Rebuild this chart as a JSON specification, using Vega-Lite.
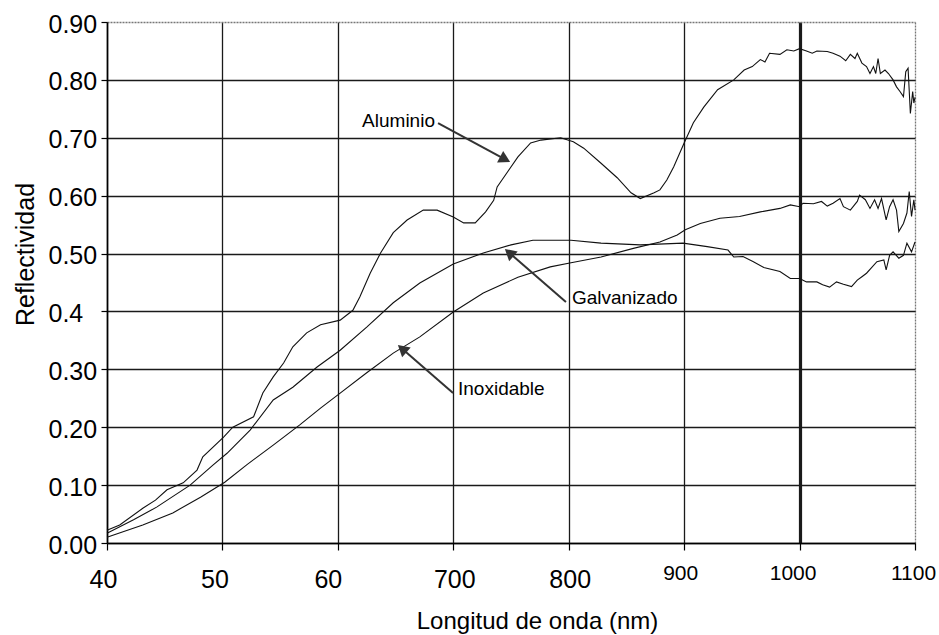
{
  "$schema": "https://vega.github.io/schema/vega-lite/v6.json",
  "width": 808,
  "height": 521,
  "autosize": "none",
  "padding": {"left": 107, "top": 22, "right": 24, "bottom": 92},
  "background": "white",
  "config": {
    "view": {"stroke": null},
    "font": "Liberation Sans, Arial, sans-serif",
    "axis": {
      "domainColor": "#000",
      "domainWidth": 1.6,
      "tickColor": "#000",
      "tickWidth": 1.2,
      "gridColor": "#1a1a1a",
      "gridWidth": 1.3,
      "gridOpacity": 1,
      "labelColor": "#000",
      "titleColor": "#000",
      "titleFontWeight": "normal",
      "labelFont": "Liberation Sans, Arial, sans-serif",
      "titleFont": "Liberation Sans, Arial, sans-serif"
    }
  },
  "datasets": {
    "curvas": [
      {"m": "Aluminio", "nm": 400, "r": 0.022},
      {"m": "Aluminio", "nm": 411, "r": 0.031},
      {"m": "Aluminio", "nm": 431, "r": 0.060},
      {"m": "Aluminio", "nm": 442, "r": 0.074},
      {"m": "Aluminio", "nm": 452, "r": 0.092},
      {"m": "Aluminio", "nm": 466, "r": 0.104},
      {"m": "Aluminio", "nm": 478, "r": 0.126},
      {"m": "Aluminio", "nm": 483, "r": 0.149},
      {"m": "Aluminio", "nm": 501, "r": 0.183},
      {"m": "Aluminio", "nm": 509, "r": 0.200},
      {"m": "Aluminio", "nm": 527, "r": 0.218},
      {"m": "Aluminio", "nm": 535, "r": 0.259},
      {"m": "Aluminio", "nm": 544, "r": 0.287},
      {"m": "Aluminio", "nm": 553, "r": 0.311},
      {"m": "Aluminio", "nm": 561, "r": 0.339},
      {"m": "Aluminio", "nm": 573, "r": 0.363},
      {"m": "Aluminio", "nm": 585, "r": 0.377},
      {"m": "Aluminio", "nm": 602, "r": 0.385},
      {"m": "Aluminio", "nm": 613, "r": 0.402},
      {"m": "Aluminio", "nm": 619, "r": 0.425},
      {"m": "Aluminio", "nm": 628, "r": 0.466},
      {"m": "Aluminio", "nm": 637, "r": 0.501},
      {"m": "Aluminio", "nm": 648, "r": 0.536},
      {"m": "Aluminio", "nm": 660, "r": 0.558},
      {"m": "Aluminio", "nm": 674, "r": 0.575},
      {"m": "Aluminio", "nm": 686, "r": 0.575},
      {"m": "Aluminio", "nm": 700, "r": 0.563},
      {"m": "Aluminio", "nm": 709, "r": 0.553},
      {"m": "Aluminio", "nm": 719, "r": 0.553},
      {"m": "Aluminio", "nm": 728, "r": 0.572},
      {"m": "Aluminio", "nm": 735, "r": 0.592},
      {"m": "Aluminio", "nm": 738, "r": 0.615},
      {"m": "Aluminio", "nm": 748, "r": 0.644},
      {"m": "Aluminio", "nm": 756, "r": 0.667},
      {"m": "Aluminio", "nm": 767, "r": 0.691},
      {"m": "Aluminio", "nm": 776, "r": 0.696},
      {"m": "Aluminio", "nm": 793, "r": 0.700},
      {"m": "Aluminio", "nm": 804, "r": 0.693},
      {"m": "Aluminio", "nm": 813, "r": 0.682},
      {"m": "Aluminio", "nm": 828, "r": 0.656},
      {"m": "Aluminio", "nm": 842, "r": 0.631},
      {"m": "Aluminio", "nm": 854, "r": 0.605},
      {"m": "Aluminio", "nm": 862, "r": 0.595},
      {"m": "Aluminio", "nm": 874, "r": 0.605},
      {"m": "Aluminio", "nm": 879, "r": 0.610},
      {"m": "Aluminio", "nm": 885, "r": 0.627},
      {"m": "Aluminio", "nm": 891, "r": 0.650},
      {"m": "Aluminio", "nm": 900, "r": 0.691},
      {"m": "Aluminio", "nm": 908, "r": 0.726},
      {"m": "Aluminio", "nm": 917, "r": 0.753},
      {"m": "Aluminio", "nm": 929, "r": 0.783},
      {"m": "Aluminio", "nm": 943, "r": 0.800},
      {"m": "Aluminio", "nm": 952, "r": 0.817},
      {"m": "Aluminio", "nm": 959, "r": 0.823},
      {"m": "Aluminio", "nm": 966, "r": 0.835},
      {"m": "Aluminio", "nm": 970, "r": 0.831},
      {"m": "Aluminio", "nm": 974, "r": 0.846},
      {"m": "Aluminio", "nm": 983, "r": 0.844},
      {"m": "Aluminio", "nm": 989, "r": 0.852},
      {"m": "Aluminio", "nm": 995, "r": 0.850},
      {"m": "Aluminio", "nm": 1000, "r": 0.854},
      {"m": "Aluminio", "nm": 1006, "r": 0.850},
      {"m": "Aluminio", "nm": 1011, "r": 0.846},
      {"m": "Aluminio", "nm": 1015, "r": 0.850},
      {"m": "Aluminio", "nm": 1024, "r": 0.849},
      {"m": "Aluminio", "nm": 1029, "r": 0.846},
      {"m": "Aluminio", "nm": 1035, "r": 0.841},
      {"m": "Aluminio", "nm": 1040, "r": 0.833},
      {"m": "Aluminio", "nm": 1044, "r": 0.844},
      {"m": "Aluminio", "nm": 1048, "r": 0.837},
      {"m": "Aluminio", "nm": 1050, "r": 0.846},
      {"m": "Aluminio", "nm": 1054, "r": 0.829},
      {"m": "Aluminio", "nm": 1058, "r": 0.823},
      {"m": "Aluminio", "nm": 1061, "r": 0.811},
      {"m": "Aluminio", "nm": 1064, "r": 0.823},
      {"m": "Aluminio", "nm": 1066, "r": 0.811},
      {"m": "Aluminio", "nm": 1068, "r": 0.837},
      {"m": "Aluminio", "nm": 1070, "r": 0.811},
      {"m": "Aluminio", "nm": 1074, "r": 0.817},
      {"m": "Aluminio", "nm": 1077, "r": 0.811},
      {"m": "Aluminio", "nm": 1081, "r": 0.800},
      {"m": "Aluminio", "nm": 1084, "r": 0.788},
      {"m": "Aluminio", "nm": 1087, "r": 0.780},
      {"m": "Aluminio", "nm": 1090, "r": 0.771},
      {"m": "Aluminio", "nm": 1092, "r": 0.814},
      {"m": "Aluminio", "nm": 1094, "r": 0.820},
      {"m": "Aluminio", "nm": 1096, "r": 0.742},
      {"m": "Aluminio", "nm": 1098, "r": 0.780},
      {"m": "Aluminio", "nm": 1099, "r": 0.760},
      {"m": "Aluminio", "nm": 1100, "r": 0.770},

      {"m": "Galvanizado", "nm": 400, "r": 0.017},
      {"m": "Galvanizado", "nm": 423, "r": 0.040},
      {"m": "Galvanizado", "nm": 443, "r": 0.062},
      {"m": "Galvanizado", "nm": 472, "r": 0.100},
      {"m": "Galvanizado", "nm": 492, "r": 0.135},
      {"m": "Galvanizado", "nm": 504, "r": 0.155},
      {"m": "Galvanizado", "nm": 524, "r": 0.195},
      {"m": "Galvanizado", "nm": 544, "r": 0.247},
      {"m": "Galvanizado", "nm": 561, "r": 0.269},
      {"m": "Galvanizado", "nm": 582, "r": 0.304},
      {"m": "Galvanizado", "nm": 602, "r": 0.333},
      {"m": "Galvanizado", "nm": 625, "r": 0.373},
      {"m": "Galvanizado", "nm": 648, "r": 0.415},
      {"m": "Galvanizado", "nm": 671, "r": 0.449},
      {"m": "Galvanizado", "nm": 700, "r": 0.482},
      {"m": "Galvanizado", "nm": 726, "r": 0.501},
      {"m": "Galvanizado", "nm": 750, "r": 0.515},
      {"m": "Galvanizado", "nm": 769, "r": 0.523},
      {"m": "Galvanizado", "nm": 802, "r": 0.523},
      {"m": "Galvanizado", "nm": 828, "r": 0.518},
      {"m": "Galvanizado", "nm": 862, "r": 0.515},
      {"m": "Galvanizado", "nm": 899, "r": 0.518},
      {"m": "Galvanizado", "nm": 920, "r": 0.512},
      {"m": "Galvanizado", "nm": 938, "r": 0.506},
      {"m": "Galvanizado", "nm": 943, "r": 0.494},
      {"m": "Galvanizado", "nm": 951, "r": 0.495},
      {"m": "Galvanizado", "nm": 960, "r": 0.486},
      {"m": "Galvanizado", "nm": 969, "r": 0.476},
      {"m": "Galvanizado", "nm": 983, "r": 0.469},
      {"m": "Galvanizado", "nm": 992, "r": 0.457},
      {"m": "Galvanizado", "nm": 1000, "r": 0.457},
      {"m": "Galvanizado", "nm": 1006, "r": 0.451},
      {"m": "Galvanizado", "nm": 1015, "r": 0.451},
      {"m": "Galvanizado", "nm": 1020, "r": 0.446},
      {"m": "Galvanizado", "nm": 1026, "r": 0.442},
      {"m": "Galvanizado", "nm": 1032, "r": 0.451},
      {"m": "Galvanizado", "nm": 1038, "r": 0.447},
      {"m": "Galvanizado", "nm": 1045, "r": 0.443},
      {"m": "Galvanizado", "nm": 1050, "r": 0.454},
      {"m": "Galvanizado", "nm": 1054, "r": 0.460},
      {"m": "Galvanizado", "nm": 1058, "r": 0.466},
      {"m": "Galvanizado", "nm": 1062, "r": 0.475},
      {"m": "Galvanizado", "nm": 1067, "r": 0.486},
      {"m": "Galvanizado", "nm": 1073, "r": 0.489},
      {"m": "Galvanizado", "nm": 1075, "r": 0.472},
      {"m": "Galvanizado", "nm": 1078, "r": 0.497},
      {"m": "Galvanizado", "nm": 1081, "r": 0.503},
      {"m": "Galvanizado", "nm": 1086, "r": 0.492},
      {"m": "Galvanizado", "nm": 1090, "r": 0.497},
      {"m": "Galvanizado", "nm": 1093, "r": 0.518},
      {"m": "Galvanizado", "nm": 1097, "r": 0.503},
      {"m": "Galvanizado", "nm": 1100, "r": 0.520},

      {"m": "Inoxidable", "nm": 400, "r": 0.010},
      {"m": "Inoxidable", "nm": 431, "r": 0.031},
      {"m": "Inoxidable", "nm": 457, "r": 0.052},
      {"m": "Inoxidable", "nm": 481, "r": 0.079},
      {"m": "Inoxidable", "nm": 502, "r": 0.105},
      {"m": "Inoxidable", "nm": 521, "r": 0.135},
      {"m": "Inoxidable", "nm": 544, "r": 0.169},
      {"m": "Inoxidable", "nm": 567, "r": 0.204},
      {"m": "Inoxidable", "nm": 585, "r": 0.233},
      {"m": "Inoxidable", "nm": 602, "r": 0.259},
      {"m": "Inoxidable", "nm": 625, "r": 0.294},
      {"m": "Inoxidable", "nm": 648, "r": 0.328},
      {"m": "Inoxidable", "nm": 671, "r": 0.356},
      {"m": "Inoxidable", "nm": 700, "r": 0.399},
      {"m": "Inoxidable", "nm": 726, "r": 0.432},
      {"m": "Inoxidable", "nm": 756, "r": 0.459},
      {"m": "Inoxidable", "nm": 784, "r": 0.477},
      {"m": "Inoxidable", "nm": 802, "r": 0.484},
      {"m": "Inoxidable", "nm": 828, "r": 0.494},
      {"m": "Inoxidable", "nm": 856, "r": 0.509},
      {"m": "Inoxidable", "nm": 879, "r": 0.520},
      {"m": "Inoxidable", "nm": 894, "r": 0.532},
      {"m": "Inoxidable", "nm": 901, "r": 0.541},
      {"m": "Inoxidable", "nm": 914, "r": 0.552},
      {"m": "Inoxidable", "nm": 931, "r": 0.561},
      {"m": "Inoxidable", "nm": 948, "r": 0.564},
      {"m": "Inoxidable", "nm": 966, "r": 0.572},
      {"m": "Inoxidable", "nm": 983, "r": 0.578},
      {"m": "Inoxidable", "nm": 992, "r": 0.584},
      {"m": "Inoxidable", "nm": 1000, "r": 0.581},
      {"m": "Inoxidable", "nm": 1003, "r": 0.587},
      {"m": "Inoxidable", "nm": 1012, "r": 0.586},
      {"m": "Inoxidable", "nm": 1019, "r": 0.590},
      {"m": "Inoxidable", "nm": 1024, "r": 0.582},
      {"m": "Inoxidable", "nm": 1029, "r": 0.587},
      {"m": "Inoxidable", "nm": 1035, "r": 0.595},
      {"m": "Inoxidable", "nm": 1038, "r": 0.581},
      {"m": "Inoxidable", "nm": 1044, "r": 0.575},
      {"m": "Inoxidable", "nm": 1050, "r": 0.590},
      {"m": "Inoxidable", "nm": 1052, "r": 0.601},
      {"m": "Inoxidable", "nm": 1057, "r": 0.593},
      {"m": "Inoxidable", "nm": 1061, "r": 0.578},
      {"m": "Inoxidable", "nm": 1065, "r": 0.593},
      {"m": "Inoxidable", "nm": 1068, "r": 0.578},
      {"m": "Inoxidable", "nm": 1071, "r": 0.595},
      {"m": "Inoxidable", "nm": 1075, "r": 0.558},
      {"m": "Inoxidable", "nm": 1078, "r": 0.581},
      {"m": "Inoxidable", "nm": 1081, "r": 0.593},
      {"m": "Inoxidable", "nm": 1084, "r": 0.575},
      {"m": "Inoxidable", "nm": 1086, "r": 0.538},
      {"m": "Inoxidable", "nm": 1090, "r": 0.552},
      {"m": "Inoxidable", "nm": 1093, "r": 0.570},
      {"m": "Inoxidable", "nm": 1095, "r": 0.607},
      {"m": "Inoxidable", "nm": 1097, "r": 0.564},
      {"m": "Inoxidable", "nm": 1099, "r": 0.593},
      {"m": "Inoxidable", "nm": 1100, "r": 0.575}
    ],
    "notas": [
      {"nota": "Aluminio", "nm": 621, "r": 0.7186, "nm1": 686.8, "r1": 0.7255, "nm2": 744.9, "r2": 0.6628},
      {"nota": "Galvanizado", "nm": 802.8, "r": 0.4128, "nm1": 797.6, "r1": 0.4163, "nm2": 748.4, "r2": 0.5015},
      {"nota": "Inoxidable", "nm": 704.1, "r": 0.2557, "nm1": 699.8, "r1": 0.2590, "nm2": 655.7, "r2": 0.3356}
    ]
  },
  "layer": [
    {
      "data": {"name": "curvas"},
      "mark": {"type": "line", "color": "#111", "strokeWidth": 1.1, "interpolate": "linear"},
      "encoding": {
        "x": {
          "field": "nm",
          "type": "quantitative",
          "title": "Longitud de onda (nm)",
          "scale": {"domain": [400, 1100], "nice": false, "zero": false},
          "axis": {
            "values": [400, 500, 600, 700, 800, 900, 1000, 1100],
            "labelExpr": "datum.value <= 600 ? format(datum.value / 10, 'd') : format(datum.value, 'd')",
            "tickSize": 7,
            "labelFontSize": {"condition": {"test": "datum.value >= 900", "value": 21}, "value": 25},
            "labelPadding": {"condition": {"test": "datum.value >= 900", "value": 12}, "value": 17},
            "labelOffset": {"condition": [
              {"test": "datum.value == 400", "value": -4},
              {"test": "datum.value == 500", "value": -8},
              {"test": "datum.value == 600", "value": -10},
              {"test": "datum.value == 900", "value": -4},
              {"test": "datum.value == 1000", "value": -7},
              {"test": "datum.value == 1100", "value": -2}
            ], "value": 1},
            "labelFlush": false,
            "labelOverlap": false,
            "gridWidth": {"condition": {"test": "datum.value == 1000", "value": 3.2}, "value": 1.3},
            "gridColor": {"condition": {"test": "datum.value == 1100", "value": "#777"}, "value": "#1a1a1a"},
            "gridDash": {"condition": {"test": "datum.value == 1100", "value": [2, 1]}, "value": []},
            "titleFontSize": 24,
            "titleBaseline": "alphabetic",
            "titleAlign": "center",
            "titleX": 430,
            "titleY": 85
          }
        },
        "y": {
          "field": "r",
          "type": "quantitative",
          "title": "Reflectividad",
          "scale": {"domain": [0, 0.9], "nice": false, "zero": false},
          "axis": {
            "values": [0, 0.1, 0.2, 0.3, 0.4, 0.5, 0.6, 0.7, 0.8, 0.9],
            "labelExpr": "datum.value == 0.4 ? '0.4' : format(datum.value, '.2f')",
            "tickSize": 6,
            "labelFontSize": 25,
            "labelAlign": "left",
            "labelPadding": 53,
            "labelOffset": 2,
            "labelFlush": false,
            "labelOverlap": false,
            "gridColor": {"condition": {"test": "datum.value == 0.9", "value": "#777"}, "value": "#1a1a1a"},
            "gridDash": {"condition": {"test": "datum.value == 0.9", "value": [2, 1]}, "value": []},
            "titleFontSize": 25,
            "titleBaseline": "alphabetic",
            "titleAlign": "center",
            "titleAngle": -90,
            "titleX": -74,
            "titleY": 232
          }
        },
        "detail": {"field": "m", "type": "nominal"}
      }
    },
    {
      "data": {"name": "notas"},
      "mark": {"type": "rule", "color": "#333", "strokeWidth": 2},
      "encoding": {
        "x": {"field": "nm1", "type": "quantitative", "title": "Longitud de onda (nm)"},
        "y": {"field": "r1", "type": "quantitative", "title": "Reflectividad"},
        "x2": {"field": "nm2"},
        "y2": {"field": "r2"}
      }
    },
    {
      "data": {"name": "notas"},
      "transform": [{"filter": "datum.nota == 'Aluminio'"}],
      "mark": {"type": "point", "shape": "triangle-up", "filled": true, "color": "#333", "opacity": 1, "size": 170, "angle": 118},
      "encoding": {
        "x": {"field": "nm2", "type": "quantitative", "title": "Longitud de onda (nm)"},
        "y": {"field": "r2", "type": "quantitative", "title": "Reflectividad"}
      }
    },
    {
      "data": {"name": "notas"},
      "transform": [{"filter": "datum.nota != 'Aluminio'"}],
      "mark": {"type": "point", "shape": "triangle-up", "filled": true, "color": "#333", "opacity": 1, "size": 170, "angle": 311},
      "encoding": {
        "x": {"field": "nm2", "type": "quantitative", "title": "Longitud de onda (nm)"},
        "y": {"field": "r2", "type": "quantitative", "title": "Reflectividad"}
      }
    },
    {
      "data": {"name": "notas"},
      "mark": {"type": "text", "align": "left", "baseline": "alphabetic", "fontSize": 19, "color": "#000"},
      "encoding": {
        "x": {"field": "nm", "type": "quantitative", "title": "Longitud de onda (nm)"},
        "y": {"field": "r", "type": "quantitative", "title": "Reflectividad"},
        "text": {"field": "nota"}
      }
    }
  ]
}
